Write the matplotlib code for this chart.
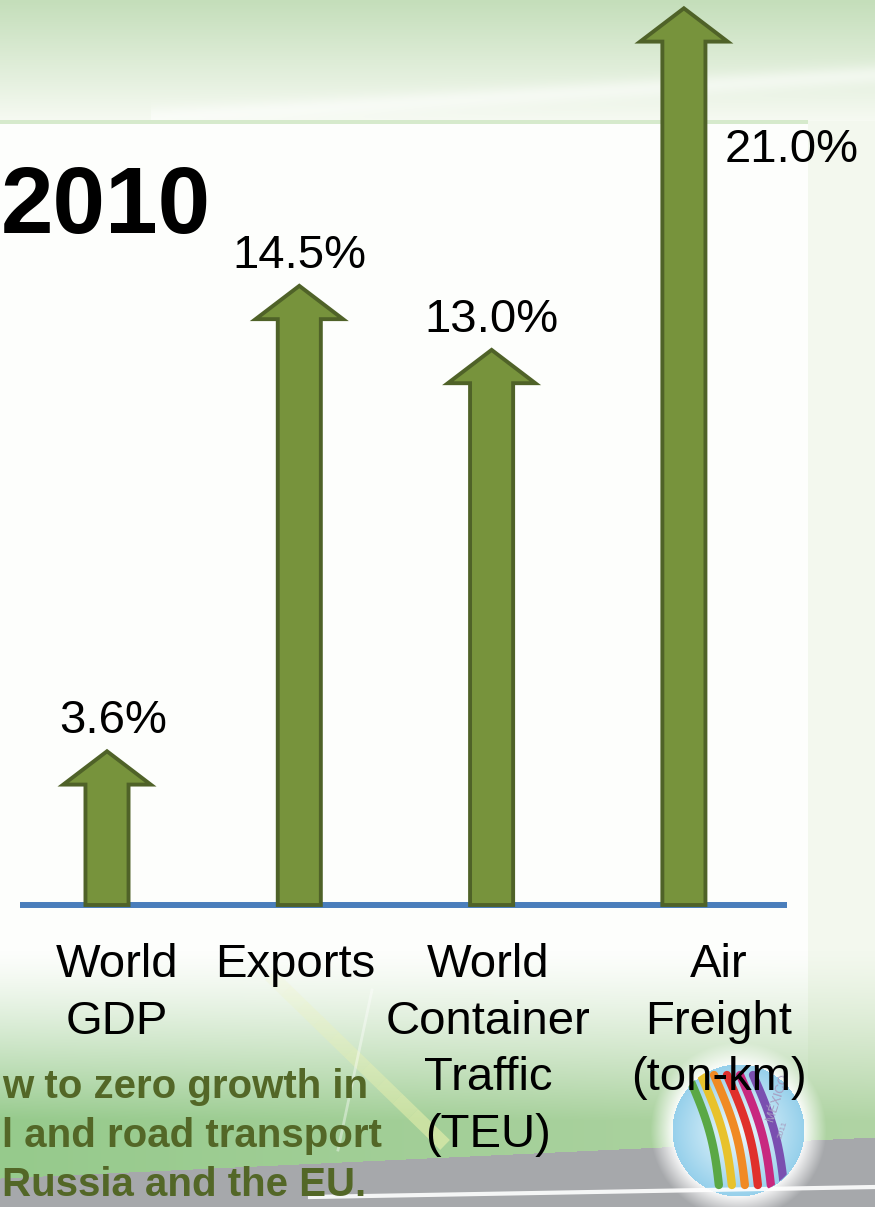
import numpy as np
import matplotlib
matplotlib.use("Agg")
import matplotlib.pyplot as plt
from matplotlib.patches import FancyArrow, Circle

# ---- data -------------------------------------------------------------
categories = ["World\nGDP", "Exports", "World\nContainer\nTraffic\n(TEU)",
              "Air\nFreight\n(ton-km)"]
growth_pct = [3.6, 14.5, 13.0, 21.0]
year_title = "2010"
note_lines = ["w to zero growth in", "l and road transport", "Russia and the EU."]

# ---- layout (pixels of the 875 x 1207 canvas) -------------------------
W, H = 875, 1207
BASE_PX = 905          # row of the zero line
PX_PER_PCT = 42.7      # vertical scale
SLOT0_PX = 107         # centre of the first arrow
SLOT_PX = 192.3        # distance between arrows

FONT = "Liberation Sans"
ARROW_FILL = "#77933C"
ARROW_EDGE = "#4F6228"
AXIS_BLUE = "#4A7EBB"
NOTE_GREEN = "#536727"

value_offset = [(0.03, 0.42), (0.0, 0.42), (0.0, 0.42), (0.56, -3.6)]
label_dx = [0.05, -0.02, -0.02, 0.18]

fig = plt.figure(figsize=(W / 100, H / 100), dpi=100)

# ---- slide background -------------------------------------------------
bg = fig.add_axes([0, 0, 1, 1], zorder=0)
yy, xx = np.mgrid[0:H, 0:W].astype(float)
img = np.ones((H, W, 3)) * (np.array([253, 254, 252]) / 255)

# green-to-pale header band
t = np.clip(yy / 120.0, 0, 1)[..., None]
c_top = np.array([196, 222, 186]) / 255
c_low = np.array([246, 250, 242]) / 255
band = c_top + (c_low - c_top) * t
top = yy < 121
img[top] = band[top]
# soft light sweep across the header
sweep = np.exp(-((yy - (118 - 0.06 * (xx - 150))) / 10.0) ** 2) * (xx > 150) * (yy < 121)
img += (1 - img) * 0.5 * sweep[..., None]
# pale strip on the right
strip = (xx >= 808) & (yy >= 121)
img[strip] = np.array([243, 248, 238]) / 255
# thin divider under the header
div = (yy >= 120) & (yy < 124) & (xx < 808)
img[div] = np.array([214, 234, 204]) / 255

# green wash at the bottom
w = np.clip((yy - 950) / 170.0, 0, 1) ** 1.3
g_left = np.array([150, 202, 140]) / 255
g_right = np.array([176, 212, 164]) / 255
g = g_left + (g_right - g_left) * (xx / W)[..., None]
img = img * (1 - w[..., None]) + g * w[..., None]

# grey floor band
floor = yy > (1178 - 41.0 * xx / W)
img[floor] = np.array([166, 168, 171]) / 255

# emblem: glow and globe
cx, cy, r = 738, 1130, 66
d = np.hypot(xx - cx, yy - cy)
glow = np.clip(1 - (d - r) / 22.0, 0, 1) * (d >= r)
img = img * (1 - 0.9 * glow[..., None]) + 0.9 * glow[..., None]
inside = d < r
rr = (d / r)[..., None]
globe = (np.array([240, 250, 254]) / 255) * (1 - rr) + (np.array([150, 208, 235]) / 255) * rr
img[inside] = globe[inside]

bg.imshow(np.clip(img, 0, 1), extent=(0, W, H, 0), interpolation="bilinear")
bg.set_xlim(0, W)
bg.set_ylim(H, 0)
bg.axis("off")

# diagonal light streak (fading in from the top) and floor highlight
seg = np.linspace(0, 1, 12)
for a0, a1 in zip(seg[:-1], seg[1:]):
    bg.plot([270 + 175 * a0, 270 + 175 * a1], [975 + 170 * a0, 975 + 170 * a1],
            color="#f1f4ae", lw=10, alpha=0.1 + 0.45 * a1,
            solid_capstyle="butt")
bg.plot([372, 338], [990, 1150], color="white", lw=2, alpha=0.4)
bg.plot([310, 875], [1197, 1187], color="white", lw=3, alpha=0.9)

# emblem ribbons
globe_clip = Circle((cx, cy), r, transform=bg.transData)
ribbon_colors = ["#5aa845", "#e8c22c", "#f08a24", "#e0302c", "#c8287f", "#7a4fb0"]
for k, col in enumerate(ribbon_colors):
    x0 = 688 + 13 * k
    xs = np.linspace(0, 1, 30)
    px = x0 + 30 * xs + 6 * np.sin(xs * 3)
    py = 1075 + 110 * xs
    ln, = bg.plot(px, py, color=col, lw=6, solid_capstyle="round")
    ln.set_clip_path(globe_clip)
bg.text(778, 1098, "MÉXICO", rotation=72, fontsize=9, color="#a79cbf",
        ha="center", va="center", family=FONT)
bg.text(783, 1130, "2011", rotation=72, fontsize=6, color="#a79cbf",
        ha="center", va="center", family=FONT)

# ---- chart -------------------------------------------------------------
ax = fig.add_axes([0, 0, 1, 1], zorder=1)
ax.set_facecolor("none")
ax.set_xlim(-SLOT0_PX / SLOT_PX, (W - SLOT0_PX) / SLOT_PX)
ax.set_ylim(-(H - BASE_PX) / PX_PER_PCT, BASE_PX / PX_PER_PCT)
ax.axis("off")

ax.plot([(20 - SLOT0_PX) / SLOT_PX, (787 - SLOT0_PX) / SLOT_PX], [0, 0],
        color=AXIS_BLUE, lw=4.3, solid_capstyle="butt", zorder=2)

for i, v in enumerate(growth_pct):
    arrow = FancyArrow(i, 0, 0, v, width=0.224, head_width=0.455,
                       head_length=0.78, length_includes_head=True,
                       facecolor=ARROW_FILL, edgecolor=ARROW_EDGE, lw=2.8,
                       joinstyle="miter", zorder=3)
    ax.add_patch(arrow)
    dx, dy = value_offset[i]
    ax.text(i + dx, v + dy, f"{v:.1f}%", ha="center", va="baseline",
            fontsize=34, family=FONT, color="black", zorder=4)

for i, lab in enumerate(categories):
    ax.text(i + label_dx[i], -(943 - BASE_PX) / PX_PER_PCT, lab,
            ha="center", va="top", multialignment="center", fontsize=34,
            family=FONT, color="black", linespacing=1.37, zorder=4)

# ---- titles and notes -------------------------------------------------
fig.text(1 / W, 1 - 233 / H, year_title, fontsize=68, fontweight="bold",
         family=FONT, color="black", ha="left", va="baseline", zorder=5)

for k, line in enumerate(note_lines):
    fig.text(2 / W, 1 - (1098 + 49 * k) / H, line, fontsize=29,
             fontweight="bold", family=FONT, color=NOTE_GREEN,
             ha="left", va="baseline", zorder=5)

fig.savefig("out.png", dpi=100)
